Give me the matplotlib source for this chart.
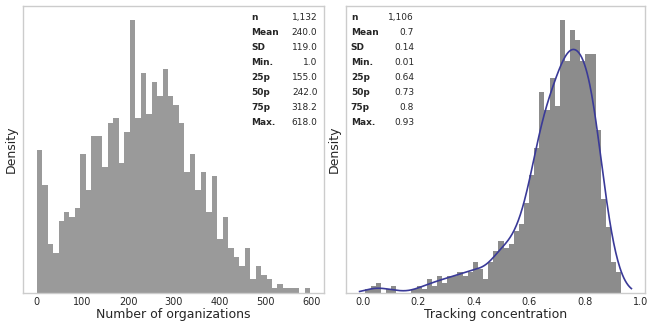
import numpy as np
import matplotlib
matplotlib.use("Agg")
import matplotlib.pyplot as plt

# ---------------- data ----------------
# Left: number of organizations (50 bins)
org_range = (1.0, 597.0)
org_counts = [32, 24, 11, 9, 16, 18, 17, 19, 31, 23,
              35, 35, 28, 38, 39, 29, 36, 61, 39, 49,
              40, 47, 44, 50, 44, 42, 38, 27, 31, 23,
              27, 18, 26, 12, 17, 10, 8, 6, 10, 3,
              6, 4, 3, 1, 2, 1, 1, 1, 0, 1]
org_stat_names = ["n", "Mean", "SD", "Min.", "25p", "50p", "75p", "Max."]
org_stat_values = ["1,132", "240.0", "119.0", "1.0", "155.0", "242.0", "318.2", "618.0"]
org_xlabel = "Number of organizations"
org_ticks = [0, 100, 200, 300, 400, 500, 600]

# Right: tracking concentration (50 bins)
trk_range = (0.01, 0.93)
trk_counts = [1, 2, 3, 0, 1, 2, 0, 0, 0, 1,
              2, 1, 4, 2, 5, 3, 5, 5, 6, 5,
              6, 9, 7, 4, 9, 12, 15, 13, 14, 18,
              20, 26, 34, 42, 58, 53, 62, 54, 79, 67,
              76, 73, 67, 69, 69, 47, 27, 19, 9, 6]
trk_kde_support = (-0.011, 0.967)
trk_stat_names = ["n", "Mean", "SD", "Min.", "25p", "50p", "75p", "Max."]
trk_stat_values = ["1,106", "0.7", "0.14", "0.01", "0.64", "0.73", "0.8", "0.93"]
trk_xlabel = "Tracking concentration"
trk_ticks = [0.0, 0.2, 0.4, 0.6, 0.8, 1.0]

ylabel = "Density"

# ---------------- style ----------------
plt.rcParams["font.family"] = ["DejaVu Sans"]
text_color = "#262626"
spine_color = "#cccccc"

fig = plt.figure(figsize=(6.47, 3.28), dpi=100)
ax1 = fig.add_axes([0.0355, 0.107, 0.4653, 0.875])
ax2 = fig.add_axes([0.5348, 0.107, 0.4621, 0.875])


def hist_from_counts(ax, rng, counts, color):
    counts = np.asarray(counts, dtype=float)
    edges = np.linspace(rng[0], rng[1], len(counts) + 1)
    centers = 0.5 * (edges[:-1] + edges[1:])
    ax.hist(centers, bins=edges, weights=counts, density=True,
            color=color, linewidth=0)
    return edges, centers, counts


def style_axes(ax, xlabel, ticks, ticklabels):
    for s in ax.spines.values():
        s.set_color(spine_color)
        s.set_linewidth(1.0)
    ax.set_yticks([])
    ax.set_xticks(ticks)
    ax.set_xticklabels(ticklabels)
    ax.tick_params(axis="x", length=0, pad=3, labelsize=7, labelcolor=text_color)
    ax.set_xlabel(xlabel, fontsize=9, color=text_color, labelpad=1)
    ax.set_ylabel(ylabel, fontsize=9, color=text_color, labelpad=4)
    ax.grid(False)


def stats_table(ax, names, values, xname, xval):
    y0 = 0.960
    dy = 0.0523
    for i, (nm, v) in enumerate(zip(names, values)):
        y = y0 - i * dy
        ax.text(xname, y, nm, transform=ax.transAxes, fontsize=6.5,
                fontweight="bold", color=text_color, ha="left", va="center")
        ax.text(xval, y, v, transform=ax.transAxes, fontsize=6.5,
                color=text_color, ha="right", va="center")


# Left panel
hist_from_counts(ax1, org_range, org_counts, "#9a9a9a")
style_axes(ax1, org_xlabel, org_ticks, [str(t) for t in org_ticks])
stats_table(ax1, org_stat_names, org_stat_values, 0.758, 0.978)

# Right panel
edges, centers, counts = hist_from_counts(ax2, trk_range, trk_counts, "#8c8c8c")
w = counts / counts.sum()
mean = np.sum(w * centers)
std = np.sqrt(np.sum(w * (centers - mean) ** 2))
bw = std * counts.sum() ** (-1 / 5)
grid = np.linspace(trk_kde_support[0], trk_kde_support[1], 400)
dens = np.sum(w[None, :] * np.exp(-0.5 * ((grid[:, None] - centers[None, :]) / bw) ** 2), axis=1) / (bw * np.sqrt(2 * np.pi))
ax2.plot(grid, dens, color="#3a3a98", linewidth=1.2)
style_axes(ax2, trk_xlabel, trk_ticks, [f"{t:.1f}" for t in trk_ticks])
stats_table(ax2, trk_stat_names, trk_stat_values, 0.016, 0.228)

fig.savefig("out.png", dpi=100)
